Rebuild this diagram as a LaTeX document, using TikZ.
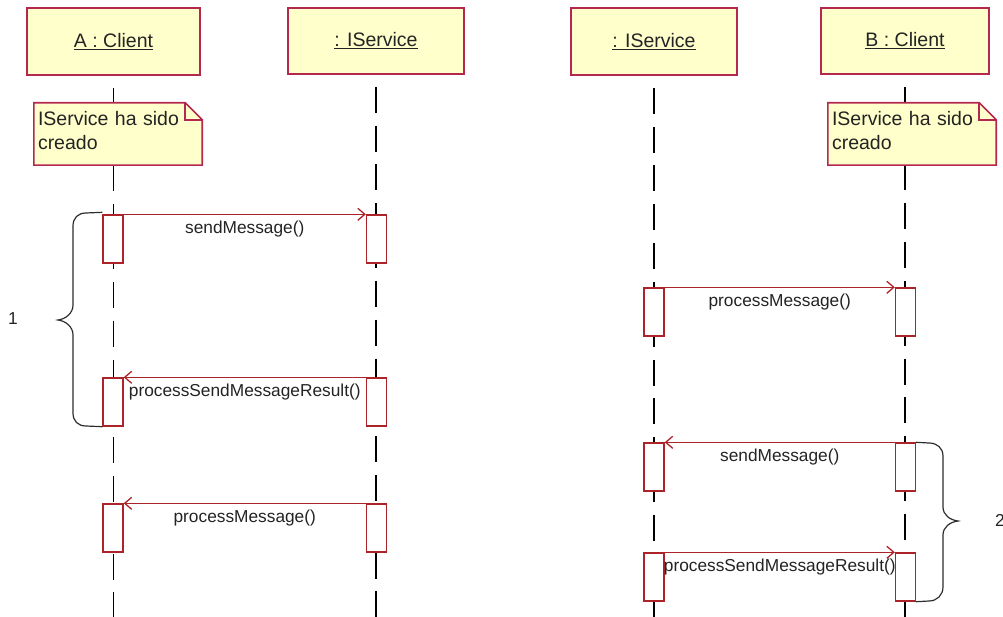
\documentclass[tikz,border=0pt]{standalone}
\usepackage{fontspec}
\setmainfont{Liberation Sans}
\usetikzlibrary{arrows.meta}
\pgfdeclarelayer{bg}
\pgfsetlayers{bg,main}

\definecolor{umlfill}{RGB}{255,255,204}
\definecolor{headline}{RGB}{180,40,80}
\definecolor{actline}{RGB}{172,36,42}
\definecolor{inktext}{RGB}{35,35,35}
\definecolor{braceink}{RGB}{45,45,45}

\newcommand\headfont{\fontsize{19.5}{23}\selectfont}
\newcommand\notefont{\fontsize{19.5}{24}\selectfont}
\newcommand\msgfont{\fontsize{17.3}{20}\selectfont}

\begin{document}
\begin{tikzpicture}[x=1pt,y=-1pt,
  head/.style={draw=headline, line width=1.8pt, fill=umlfill, inner sep=0pt,
    text=inktext, font=\headfont},
  life/.style={draw=black, line width=1.2pt, dash pattern=on 26pt off 12.8pt},
  act/.style={draw=actline, fill=white, line width=1.4pt, inner sep=0pt,
    minimum width=20pt, minimum height=48pt},
  msg/.style={draw=actline, line width=1.3pt,
    -{Straight Barb[length=7pt,width=12pt]}},
  lbl/.style={midway, anchor=base, yshift=-19pt, inner sep=0pt,
    text=inktext, font=\msgfont},
  notebg/.style={inner sep=0pt, minimum width=168pt, minimum height=62pt},
  notetext/.style={inner xsep=4pt, inner ysep=0pt, text width=160pt, align=left,
    text=inktext, font=\notefont},
  noteshape/.style={draw=headline, line width=1.6pt, fill=umlfill},
  brace/.style={draw=braceink, line width=1.2pt},
  plain/.style={inner sep=0pt, text=inktext, font=\msgfont}]

\useasboundingbox (0,0) rectangle (1003,617);
\coordinate (bot) at (0,617);

% object heads
\node[head, minimum width=173pt, minimum height=67pt] (hA)  at (113.5,41.5) {\underline{A : Client}};
\node[head, minimum width=176pt, minimum height=66pt] (hS1) at (376,41)     {\underline{: IService}};
\node[head, minimum width=166pt, minimum height=67pt] (hS2) at (654,41.5)   {\underline{: IService}};
\node[head, minimum width=168pt, minimum height=66pt] (hB)  at (905,41)     {\underline{B : Client}};

% lifelines
\begin{pgfonlayer}{bg}
  \foreach \h in {hA,hS1,hS2,hB}
    \draw[life] ([yshift=-12pt]\h.south) -- (\h.south |- bot);
\end{pgfonlayer}

% notes: frame nodes and their text
\node[notebg] (nA) at (118,134) {};
\node[notebg] (nB) at (912,134) {};
\node[notetext] (tA) at (118,131) {IService ha sido\\creado};
\node[notetext] (tB) at (912,131) {IService ha sido\\creado};
\begin{pgfonlayer}{bg}
  \foreach \n in {nA,nB}{
    \draw[noteshape] (\n.south west) -- (\n.north west)
      -- ([xshift=-17pt]\n.north east) -- ([yshift=-17pt]\n.north east)
      -- (\n.south east) -- cycle;
    \draw[noteshape, fill=none] ([xshift=-17pt]\n.north east)
      -- ([xshift=-17pt,yshift=-17pt]\n.north east) -- ([yshift=-17pt]\n.north east);
  }
\end{pgfonlayer}

% activations, left pair
\node[act] (a1) at (113,239) {};
\node[act] (s1) at (376.5,239) {};
\node[act] (a2) at (113,402) {};
\node[act] (s2) at (376.5,402) {};
\node[act] (a3) at (113,528) {};
\node[act] (s3) at (376.5,528) {};

% activations, right pair
\node[act] (r1) at (654,312) {};
\node[act] (b1) at (905.5,312) {};
\node[act] (r2) at (654,467) {};
\node[act] (b2) at (905.5,467) {};
\node[act] (r3) at (654,577) {};
\node[act] (b3) at (905.5,577) {};

% messages
\draw[msg] (a1.north east) -- (s1.north west) node[lbl] {sendMessage()};
\draw[msg] (s2.north west) -- (a2.north east) node[lbl] {processSendMessageResult()};
\draw[msg] (s3.north west) -- (a3.north east) node[lbl] {processMessage()};
\draw[msg] (r1.north east) -- (b1.north west) node[lbl] {processMessage()};
\draw[msg] (b2.north west) -- (r2.north east) node[lbl] {sendMessage()};
\draw[msg] (r3.north east) -- (b3.north west) node[lbl] {processSendMessageResult()};

% braces grouping the exchanges
\draw[brace] ([yshift=2pt]a1.north west) -- (86,213)
  .. controls (78,213) and (73,218) .. (73,226) -- (73,305)
  .. controls (73,313) and (66,319) .. (58,320)
  .. controls (66,321) and (73,327) .. (73,335) -- (73,413)
  .. controls (73,421) and (78,426) .. (86,426) -- (a2.south west);
\node[plain] (one) at (13,319) {1};

\draw[brace] (b2.north east) -- (929,443)
  .. controls (937,443) and (943,448) .. (943,456) -- (943,507)
  .. controls (943,515) and (950,520) .. (958,521)
  .. controls (950,522) and (943,527) .. (943,535) -- (943,587)
  .. controls (943,595) and (937,601) .. (929,601) -- (b3.south east);
\node[plain, anchor=west] (two) at (995,520) {2};

\end{tikzpicture}
\end{document}
